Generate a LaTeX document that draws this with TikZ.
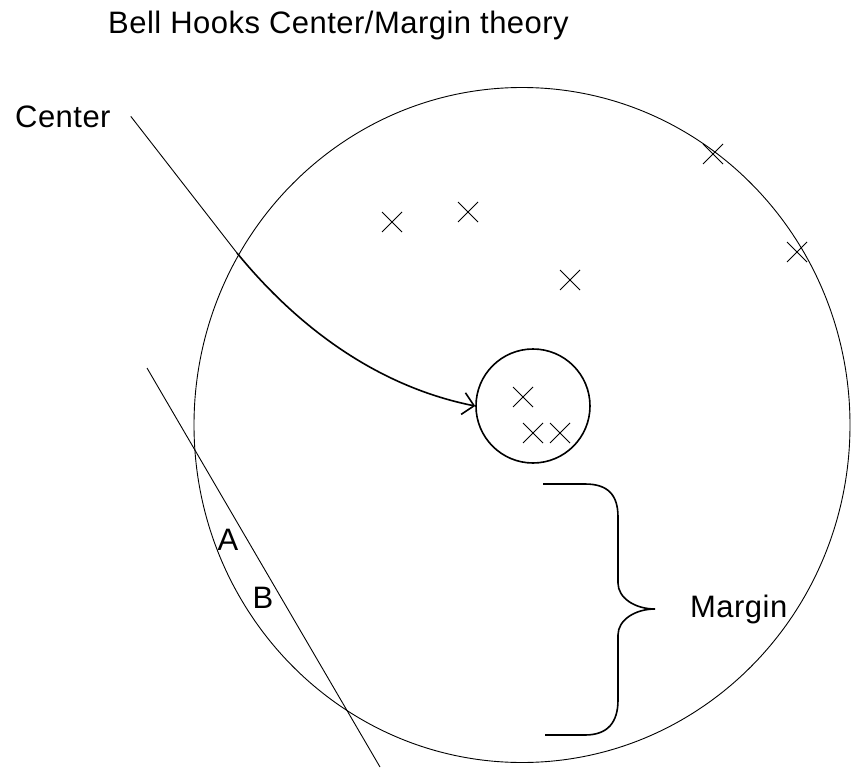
\documentclass[tikz,border=0pt]{standalone}
\usepackage{fontspec}
\setmainfont[LetterSpace=1.5]{Liberation Sans}
\usetikzlibrary{arrows.meta,shapes.geometric,shapes.misc}
\tikzset{
  lbl/.style={inner sep=0pt, anchor=base west, font=\fontsize{31}{37}\selectfont},
  xmark/.style={cross out, draw, line width=1pt, minimum size=19pt, inner sep=0pt},
  thinline/.style={line width=0.9pt},
  boldline/.style={line width=1.6pt},
}
\begin{document}
\begin{tikzpicture}[x=1pt, y=-1pt]
\useasboundingbox (0,0) rectangle (852,771);
% title and labels
\node[lbl] (title) at (108,33) {Bell Hooks Center/Margin theory};
\node[lbl] (ctext) at (15,127) {Center};
\node[lbl] (mtext) at (690,617) {Margin};
\node[lbl, anchor=base] (la) at (228,550) {A};
\node[lbl, anchor=base] (lb) at (263,608) {B};
% big circle
\node[ellipse, draw, thinline, minimum width=656pt, minimum height=675pt, inner sep=0pt] (big) at (522,425) {};
% small circle
\node[circle, draw, boldline, minimum size=114pt, inner sep=0pt] (core) at (533,406) {};
% crosses
\node[xmark] (x1) at (392,222) {};
\node[xmark] (x2) at (468,212) {};
\node[xmark] (x3) at (570,280) {};
\node[xmark] (x4) at (713,154) {};
\node[xmark] (x5) at (797,252) {};
\node[xmark] (x6) at (523,397) {};
\node[xmark] (x7) at (533,433) {};
\node[xmark] (x8) at (560,433) {};
% pointer from Center to core
\coordinate (cross) at (237,253);
\draw[thinline] (ctext.east) ++(20,0) -- (cross);
\draw[boldline, -{Straight Barb[length=11pt, width=22pt]}] (cross) .. controls (300,330) and (380,387) .. (core.west);
% secant line
\coordinate (s1) at (147,368);
\coordinate (s2) at (380,767);
\draw[thinline] (s1) -- (s2);
% brace
\coordinate (btop) at (543,484);
\coordinate (btip) at (655,609);
\coordinate (bbot) at (545,735);
\draw[boldline] (btop) -- (585,484) .. controls (608,484) and (618,495) .. (618,517)
  -- (618,583) .. controls (618,598) and (635,609) .. (btip)
  .. controls (635,609) and (618,620) .. (618,635)
  -- (618,700) .. controls (618,722) and (608,735) .. (585,735) -- (bbot);
\end{tikzpicture}
\end{document}
